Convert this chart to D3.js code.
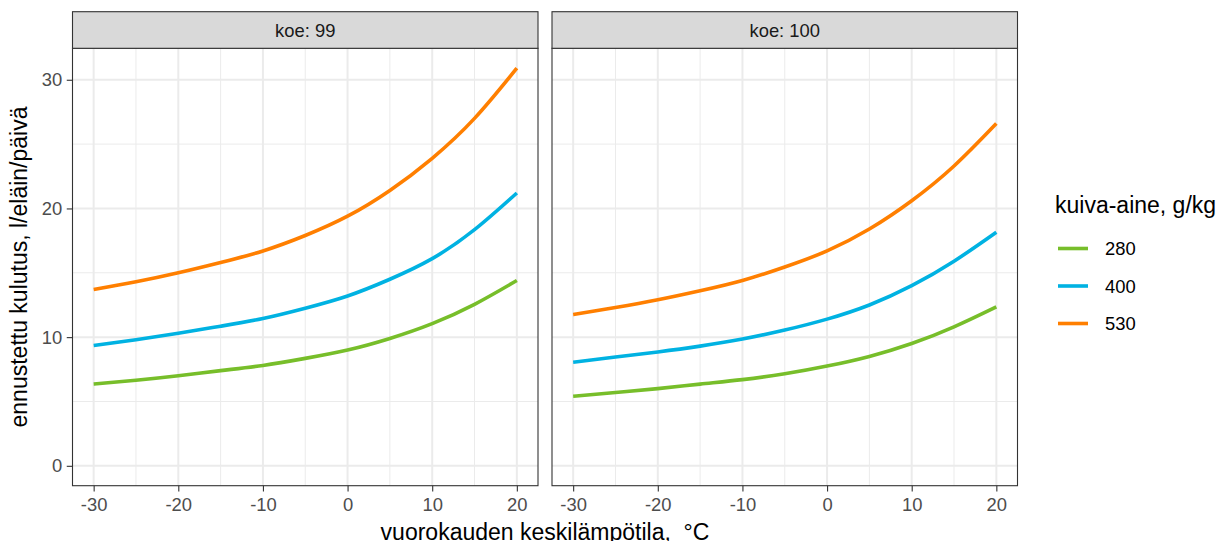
<!DOCTYPE html>
<html>
<head>
<meta charset="utf-8">
<script src="https://cdn.jsdelivr.net/npm/d3@7"></script>
<style>
	html, body { margin: 0; padding: 0; background: #fff; }
	svg { display: block; font-family: 'Liberation Sans', Arial, sans-serif; }
	text { white-space: pre; }
</style>
</head>
<body>
<svg id="chart" width="1225" height="541"></svg>
<script>
// lämpötilat (x) joissa ennuste luettu
const temps = [-30, -25, -20, -15, -10, -5, 0, 5, 10, 15, 20];

const dryMatter = ['280', '400', '530'];
const colors = ['#77be2a', '#00b2e2', '#ff7f00'];
const panels = ['koe: 99', 'koe: 100'];

// koe 99
const koe99_280 = [6.35, 6.65, 7.0, 7.4, 7.8, 8.35, 9.0, 9.9, 11.05, 12.55, 14.4];
const koe99_400 = [9.35, 9.8, 10.3, 10.85, 11.45, 12.25, 13.2, 14.5, 16.1, 18.35, 21.2];
const koe99_530 = [13.7, 14.3, 15.0, 15.8, 16.7, 17.9, 19.4, 21.4, 23.9, 27.0, 30.9];

// koe 100
const koe100_280 = [5.4, 5.7, 6.0, 6.35, 6.7, 7.15, 7.75, 8.5, 9.5, 10.8, 12.35];
const koe100_400 = [8.05, 8.45, 8.85, 9.3, 9.85, 10.55, 11.4, 12.5, 14.0, 15.9, 18.15];
const koe100_530 = [11.75, 12.3, 12.9, 13.6, 14.4, 15.45, 16.7, 18.4, 20.6, 23.3, 26.6];

const panelSeries = [
	[koe99_280, koe99_400, koe99_530],
	[koe100_280, koe100_400, koe100_530]
];

const xTicks = [-30, -20, -10, 0, 10, 20];
const xMinor = [-25, -15, -5, 5, 15];
const yTicks = [0, 10, 20, 30];
const yMinor = [5, 15, 25];

const svg = d3.select('#chart');

const panelTop = 48.3;
const panelBottom = 485.7;
const stripTop = 11.7;
const panelX = [[72.5, 538], [552, 1017.5]];

const yScale = d3.scaleLinear([-1.545, 32.445], [panelBottom, panelTop]);

const TICK_LEN = 5.75;
const GREY20 = '#333333';

panels.forEach((name, p) => {
	const [x0, x1] = panelX[p];
	const xScale = d3.scaleLinear([-32.5, 22.5], [x0, x1]);
	const g = svg.append('g');

	/** GRIDS *****************************************************************/
	g.selectAll('.minor-x').data(xMinor).enter().append('line')
		.attr('x1', (d) => xScale(d)).attr('x2', (d) => xScale(d))
		.attr('y1', panelTop).attr('y2', panelBottom)
		.attr('stroke', '#ebebeb').attr('stroke-width', 1);
	g.selectAll('.minor-y').data(yMinor).enter().append('line')
		.attr('x1', x0).attr('x2', x1)
		.attr('y1', (d) => yScale(d)).attr('y2', (d) => yScale(d))
		.attr('stroke', '#ebebeb').attr('stroke-width', 1);
	g.selectAll('.major-x').data(xTicks).enter().append('line')
		.attr('x1', (d) => xScale(d)).attr('x2', (d) => xScale(d))
		.attr('y1', panelTop).attr('y2', panelBottom)
		.attr('stroke', '#ebebeb').attr('stroke-width', 2);
	g.selectAll('.major-y').data(yTicks).enter().append('line')
		.attr('x1', x0).attr('x2', x1)
		.attr('y1', (d) => yScale(d)).attr('y2', (d) => yScale(d))
		.attr('stroke', '#ebebeb').attr('stroke-width', 2);

	/** DATA ******************************************************************/
	const line = d3.line()
		.x((d, i) => xScale(temps[i]))
		.y((d) => yScale(d))
		.curve(d3.curveNatural);

	g.selectAll('.line').data(panelSeries[p]).enter().append('path')
		.attr('fill', 'none')
		.attr('stroke', (d, i) => colors[i])
		.attr('stroke-width', 3.6)
		.attr('d', (d) => line(d));

	/** BORDER + STRIP ********************************************************/
	g.append('rect')
		.attr('x', x0).attr('y', panelTop)
		.attr('width', x1 - x0).attr('height', panelBottom - panelTop)
		.attr('fill', 'none').attr('stroke', GREY20).attr('stroke-width', 1.1);
	g.append('rect')
		.attr('x', x0).attr('y', stripTop)
		.attr('width', x1 - x0).attr('height', panelTop - stripTop)
		.attr('fill', '#d9d9d9').attr('stroke', GREY20).attr('stroke-width', 1.1);
	g.append('text')
		.attr('x', (x0 + x1) / 2).attr('y', (stripTop + panelTop) / 2 + 6.5)
		.attr('text-anchor', 'middle')
		.attr('font-size', 18.4).attr('fill', '#1a1a1a')
		.text(name);

	/** BOTTOM AXIS ***********************************************************/
	const bottomAxis = d3.axisBottom(xScale).tickValues(xTicks)
		.tickSize(TICK_LEN).tickPadding(6).tickFormat(d3.format('d'));
	const ax = g.append('g')
		.attr('transform', `translate(0, ${panelBottom})`)
		.call(bottomAxis);
	ax.select('.domain').remove();
	ax.selectAll('line').attr('stroke', GREY20).attr('stroke-width', 1.1);
	ax.selectAll('text')
		.attr('font-family', 'Liberation Sans, Arial, sans-serif')
		.attr('font-size', 18.4).attr('fill', '#4d4d4d')
		.text((d) => String(d).replace('−', '-'));

	/** LEFT AXIS (vain vasen paneeli) ****************************************/
	if (p === 0) {
		const leftAxis = d3.axisLeft(yScale).tickValues(yTicks)
			.tickSize(TICK_LEN).tickPadding(4.5);
		const ay = g.append('g')
			.attr('transform', `translate(${x0}, 0)`)
			.call(leftAxis);
		ay.select('.domain').remove();
		ay.selectAll('line').attr('stroke', GREY20).attr('stroke-width', 1.1);
		ay.selectAll('text')
			.attr('font-family', 'Liberation Sans, Arial, sans-serif')
			.attr('font-size', 18.4).attr('fill', '#4d4d4d');
	}
});

/** AXIS TITLES ***************************************************************/
svg.append('text')
	.attr('x', (panelX[0][0] + panelX[1][1]) / 2).attr('y', 540)
	.attr('text-anchor', 'middle')
	.attr('font-size', 23).attr('fill', '#000')
	.text('vuorokauden keskilämpötila,  °C');

svg.append('text')
	.attr('transform', `translate(27, ${(panelTop + panelBottom) / 2}) rotate(-90)`)
	.attr('text-anchor', 'middle')
	.attr('font-size', 23).attr('fill', '#000')
	.text('ennustettu kulutus, l/eläin/päivä');

/** LEGEND ********************************************************************/
const legend = svg.append('g').attr('transform', 'translate(1055, 0)');
legend.append('text')
	.attr('x', 0).attr('y', 213)
	.attr('font-size', 23).attr('fill', '#000')
	.text('kuiva-aine, g/kg');

const items = legend.selectAll('.item').data(dryMatter).enter().append('g')
	.attr('transform', (d, i) => `translate(0, ${248.5 + i * 37.5})`);
items.append('line')
	.attr('x1', 3).attr('x2', 33).attr('y1', 0).attr('y2', 0)
	.attr('stroke', (d, i) => colors[i]).attr('stroke-width', 3.6);
items.append('text')
	.attr('x', 50).attr('y', 6.5)
	.attr('font-size', 18.4).attr('fill', '#000')
	.text((d) => d);
</script>
</body>
</html>
